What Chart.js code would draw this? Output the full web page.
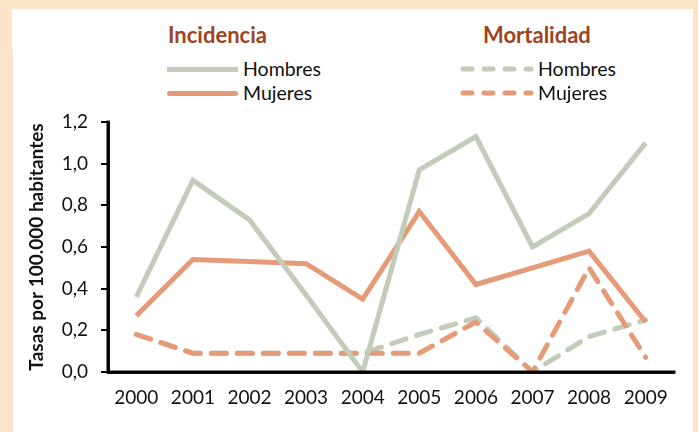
<!DOCTYPE html>
<html>
<head>
<meta charset="utf-8">
<script src="https://cdn.jsdelivr.net/npm/chart.js@4/dist/chart.umd.min.js"></script>
<style>
  body { margin: 0; width: 698px; height: 432px; background: #fde5cc; overflow: hidden; font-family: Lato, "Open Sans", sans-serif; }
  .panel { position: absolute; background: #ffffff; }
  #grafico { position: absolute; left: 0; top: 0; }
  .titulo { position: absolute; top: 21px; font-weight: bold; font-size: 22px; color: #9c4424; }
  .item { position: absolute; font-size: 19.5px; color: #111; }
  .muestra { position: absolute; height: 0; }
</style>
</head>
<body>
<div class="panel" style="left:12px; top:9px; width:681px; height:40px"></div>
<div class="panel" style="left:13px; top:47px; width:680px; height:385px"></div>
<div class="titulo" style="left:168px">Incidencia</div>
<div class="titulo" style="left:483px">Mortalidad</div>

<div class="muestra" style="left:167px; top:67px; width:71px; border-top:5px solid #c3ccb8"></div>
<div class="item" style="left:243px; top:57px">Hombres</div>
<div class="muestra" style="left:167px; top:91px; width:71px; border-top:5px solid #e59a78; border-radius:3px"></div>
<div class="item" style="left:243px; top:81px">Mujeres</div>

<canvas id="leyendaM" width="80" height="50" style="position:absolute; left:455px; top:57px"></canvas>
<div class="item" style="left:538px; top:57px">Hombres</div>
<div class="item" style="left:538px; top:81px">Mujeres</div>

<canvas id="grafico" width="698" height="432"></canvas>
<script>
// datos
var anios = ['2000', '2001', '2002', '2003', '2004', '2005', '2006', '2007', '2008', '2009'];
var incidenciaHombres = [0.36, 0.92, 0.73, 0.37, 0.0, 0.97, 1.13, 0.60, 0.76, 1.10];
var incidenciaMujeres = [0.27, 0.54, 0.53, 0.52, 0.35, 0.77, 0.42, 0.50, 0.58, 0.24];
var mortalidadHombres = [0.18, 0.09, 0.09, 0.09, 0.09, 0.18, 0.26, 0.0, 0.17, 0.25];
var mortalidadMujeres = [0.18, 0.09, 0.09, 0.09, 0.09, 0.09, 0.24, 0.0, 0.50, 0.07];
var ticksY = ['0,0', '0,2', '0,4', '0,6', '0,8', '1,0', '1,2'];

var verde = '#c3ccb8';
var naranja = '#e59a78';
var negro = '#111111';

// muestras de linea discontinua en la leyenda de mortalidad
var lc = document.getElementById('leyendaM').getContext('2d');
lc.lineWidth = 5;
lc.lineCap = 'round';
lc.setLineDash([9, 12]);
lc.strokeStyle = verde;
lc.beginPath(); lc.moveTo(8, 12); lc.lineTo(76, 12); lc.stroke();
lc.strokeStyle = naranja;
lc.beginPath(); lc.moveTo(8, 36); lc.lineTo(76, 36); lc.stroke();

var fuente = 'Lato, "Open Sans", sans-serif';

// ejes: linea de eje y marcas del eje y, encima de las series
var ejes = {
    id: 'ejes',
    afterDatasetsDraw: function (chart) {
        var ctx = chart.ctx;
        var area = chart.chartArea;
        var y = chart.scales.y;
        ctx.save();
        ctx.strokeStyle = '#000000';
        ctx.lineWidth = 3;
        ctx.lineCap = 'square';
        ctx.setLineDash([]);
        ctx.beginPath();
        ctx.moveTo(area.left, area.top);
        ctx.lineTo(area.left, area.bottom);
        ctx.lineTo(area.right, area.bottom);
        ctx.stroke();
        ctx.lineWidth = 2;
        ctx.lineCap = 'butt';
        y.ticks.forEach(function (t) {
            var py = Math.round(y.getPixelForValue(t.value));
            ctx.beginPath();
            ctx.moveTo(area.left - 7, py);
            ctx.lineTo(area.left, py);
            ctx.stroke();
        });
        ctx.restore();
    }
};

var chartdata = {
    labels: anios,
    datasets: [{
        label: 'Incidencia Hombres',
        data: incidenciaHombres,
        borderColor: verde,
        borderWidth: 5,
        pointRadius: 0,
        tension: 0
    }, {
        label: 'Incidencia Mujeres',
        data: incidenciaMujeres,
        borderColor: naranja,
        borderWidth: 5,
        pointRadius: 0,
        tension: 0
    }, {
        label: 'Mortalidad Mujeres',
        data: mortalidadMujeres,
        borderColor: naranja,
        borderWidth: 5,
        borderDash: [15, 11],
        borderCapStyle: 'round',
        pointRadius: 0,
        tension: 0
    }, {
        label: 'Mortalidad Hombres',
        data: mortalidadHombres,
        borderColor: verde,
        borderWidth: 5,
        borderDash: [15, 11],
        borderCapStyle: 'round',
        pointRadius: 0,
        tension: 0
    }]
};

var grafico = new Chart(document.getElementById('grafico'), {
    type: 'line',
    data: chartdata,
    options: {
        responsive: false,
        animation: false,
        layout: {
            padding: { top: 122, left: 0, right: 24, bottom: 0 }
        },
        plugins: {
            legend: { display: false },
            tooltip: { enabled: false }
        },
        scales: {
            x: {
                offset: true,
                grid: { display: false, drawTicks: false },
                border: { display: true, color: '#202020', width: 3 },
                ticks: { color: negro, font: { family: fuente, size: 19 }, padding: 14 },
                afterFit: function (scale) { scale.height = 60; }
            },
            y: {
                min: 0,
                max: 1.2,
                grid: { display: false, drawTicks: false },
                border: { display: true, color: '#202020', width: 3 },
                ticks: {
                    stepSize: 0.2,
                    color: negro,
                    font: { family: fuente, size: 19 },
                    padding: 20,
                    callback: function (value, index) {
                        return ticksY[index];
                    }
                },
                title: {
                    display: true,
                    text: 'Tasas por 100.000 habitantes',
                    color: negro,
                    font: { family: fuente, size: 19, weight: 'bold' },
                    padding: { top: 25, bottom: 0 }
                },
                afterFit: function (scale) { scale.width = 108; }
            }
        }
    },
    plugins: [ejes]
});
</script>
</body>
</html>
